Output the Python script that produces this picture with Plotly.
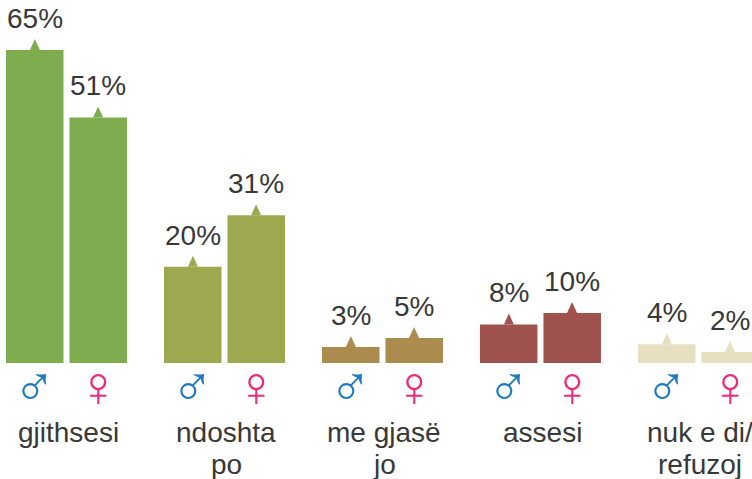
import plotly.graph_objects as go

category_line1 = ["gjithsesi", "ndoshta", "me gjasë", "assesi", "nuk e di/"]
category_line2 = ["", "po", "jo", "", "refuzoj"]
male_values = [65, 20, 3.3, 8, 3.9]
female_values = [51, 30.7, 5.2, 10.4, 2.3]
male_labels = ["65%", "20%", "3%", "8%", "4%"]
female_labels = ["51%", "31%", "5%", "10%", "2%"]
colors = ["#7EAC4F", "#9DA84F", "#AB8B4E", "#A0524F", "#E6DFC1"]
MALE_SYMBOL, FEMALE_SYMBOL = "♂", "♀"
MALE_COLOR, FEMALE_COLOR = "#1F7BC1", "#EE2A7B"
TEXT = "#383838"
FONT = "Liberation Sans"
OFFSET = 0.2
LABEL_NUDGE = 0.01

fig = go.Figure()
fig.add_bar(x=list(range(5)), y=male_values, marker=dict(color=colors, line_width=0), offsetgroup="m")
fig.add_bar(x=list(range(5)), y=female_values, marker=dict(color=colors, line_width=0), offsetgroup="f")

for i in range(5):
    for sign, val, label, sym, col in (
        (-1, male_values[i], male_labels[i], MALE_SYMBOL, MALE_COLOR),
        (1, female_values[i], female_labels[i], FEMALE_SYMBOL, FEMALE_COLOR),
    ):
        xp = i + sign * OFFSET
        fig.add_shape(type="path", xref="x", yref="y", xsizemode="pixel", ysizemode="pixel",
                      xanchor=xp, yanchor=val, path="M -5 0 L 0 11 L 5 0 Z",
                      fillcolor=colors[i], line_width=0, layer="above")
        fig.add_annotation(x=xp, y=val, xref="x", yref="y", text=label, showarrow=False,
                           yanchor="bottom", yshift=14, font=dict(family=FONT, size=28, color=TEXT))
        fig.add_annotation(x=xp, y=0, xref="x", yref="y", text=sym, showarrow=False,
                           yanchor="middle", yshift=-23, font=dict(family=FONT, size=57, color=col))
    fig.add_annotation(x=i + LABEL_NUDGE, y=0, xref="x", yref="y", text=category_line1[i], showarrow=False,
                       yanchor="middle", yshift=-69, font=dict(family=FONT, size=28, color=TEXT))
    if category_line2[i]:
        fig.add_annotation(x=i + LABEL_NUDGE, y=0, xref="x", yref="y", text=category_line2[i], showarrow=False,
                           height=32, valign="top", yanchor="top", yshift=-84,
                           font=dict(family=FONT, size=28, color=TEXT))

fig.update_layout(
    width=752, height=479, showlegend=False, paper_bgcolor="white", plot_bgcolor="white",
    margin=dict(l=0, r=0, t=0, b=116), barmode="group", bargap=0.196, bargroupgap=0.0945,
    xaxis=dict(range=[-0.421, 4.339], showticklabels=False,
               ticks="", showgrid=False, zeroline=False, showline=False),
    yaxis=dict(range=[0, 75.39], visible=False),
)
fig.write_html("out.html", post_script="document.body.style.margin='0';", config={"displayModeBar": False})
